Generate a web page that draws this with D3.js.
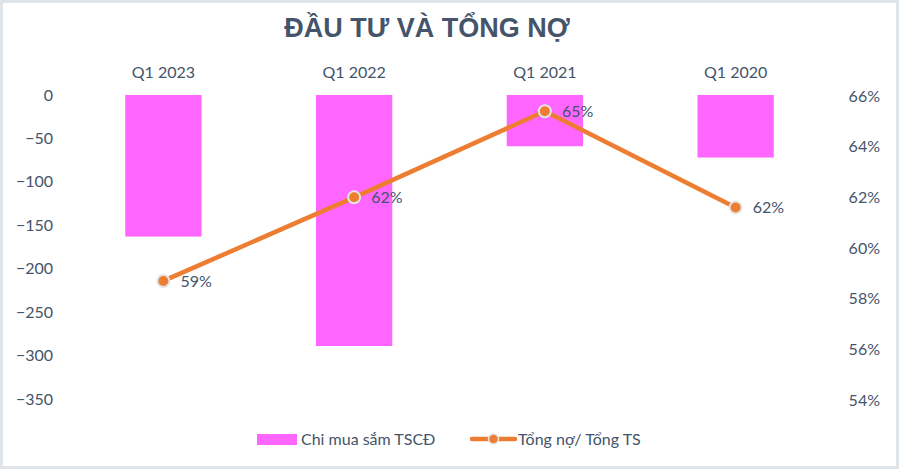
<!DOCTYPE html>
<html lang="vi">
<head>
<meta charset="UTF-8">
<title>Đầu tư và tổng nợ</title>
<script src="https://d3js.org/d3.v7.min.js"></script>
<style>
    body { margin: 0; background: #fff; }
    svg { display: block; }
    text { font-family: Lato, "Open Sans", sans-serif; fill: #44546a; }
</style>
</head>
<body>
<div id="chart"></div>
<script>
    const categories = ["Q1 2023", "Q1 2022", "Q1 2021", "Q1 2020"];
    const capex = [-163, -289, -59, -72];          // Chi mua sắm TSCĐ
    const debtRatio = [58.7, 62.0, 65.4, 61.6];     // Tổng nợ/ Tổng TS (%)
    const leftTicks = [0, -50, -100, -150, -200, -250, -300, -350];
    const rightTicks = [54, 56, 58, 60, 62, 64, 66];

    const width = 900, height = 470;
    const svg = d3.select("#chart").append("svg")
        .attr("width", width).attr("height", height);

    // chart border
    svg.append("rect")
        .attr("x", 1.5).attr("y", 1.5)
        .attr("width", width - 4).attr("height", height - 4)
        .attr("fill", "#fff").attr("stroke", "#dfe4e8").attr("stroke-width", 3);

    svg.append("text")
        .attr("x", 427).attr("y", 37)
        .attr("text-anchor", "middle")
        .style("font-family", "'Liberation Sans', Arial, sans-serif")
        .style("font-size", "27px").style("font-weight", "bold")
        .text("ĐẦU TƯ VÀ TỔNG NỢ");

    const x = d3.scaleBand().domain(categories).range([68, 831])
        .paddingInner(0.6).paddingOuter(0.3);
    const yL = d3.scaleLinear().domain([-350, 0]).range([399, 95]);
    const yR = d3.scaleLinear().domain([54, 66]).range([400, 96]);

    // category labels on top
    svg.append("g").selectAll("text").data(categories).enter().append("text")
        .attr("x", d => x(d) + x.bandwidth() / 2)
        .attr("y", 78)
        .attr("text-anchor", "middle")
        .style("font-size", "16px")
        .text(d => d);

    // left axis
    const axL = svg.append("g").attr("transform", "translate(53,0)")
        .call(d3.axisLeft(yL).tickValues(leftTicks).tickSize(0).tickPadding(0)
            .tickFormat(d3.format("d")));
    axL.select(".domain").remove();
    axL.selectAll("text").style("font-size", "16px").attr("fill", "#44546a")
        .style("font-family", "Lato, sans-serif");

    // right axis
    const axR = svg.append("g").attr("transform", "translate(880,0)")
        .call(d3.axisLeft(yR).tickValues(rightTicks).tickSize(0).tickPadding(0)
            .tickFormat(d => d + "%"));
    axR.select(".domain").remove();
    axR.selectAll("text").style("font-size", "16px").attr("fill", "#44546a")
        .style("font-family", "Lato, sans-serif");

    // bars
    svg.append("g").selectAll("rect").data(categories).enter().append("rect")
        .attr("x", d => x(d))
        .attr("y", yL(0))
        .attr("width", x.bandwidth())
        .attr("height", (d, i) => yL(capex[i]) - yL(0))
        .attr("fill", "#ff66ff");

    // line
    const pts = categories.map((c, i) => [x(c) + x.bandwidth() / 2, yR(debtRatio[i])]);
    svg.append("path")
        .attr("d", d3.line()(pts))
        .attr("fill", "none").attr("stroke", "#ed7d31")
        .attr("stroke-width", 4.5).attr("stroke-linejoin", "round");

    svg.append("g").selectAll("circle").data(pts).enter().append("circle")
        .attr("cx", d => d[0]).attr("cy", d => d[1]).attr("r", 6)
        .attr("fill", "#ed7d31").attr("stroke", "#e4e4e4").attr("stroke-width", 2);

    svg.append("g").selectAll("text").data(pts).enter().append("text")
        .attr("x", d => d[0] + 17).attr("y", d => d[1])
        .attr("dy", "0.35em")
        .style("font-size", "16px")
        .text((d, i) => Math.round(debtRatio[i]) + "%");

    // legend
    const lg = svg.append("g");
    lg.append("rect").attr("x", 257).attr("y", 434).attr("width", 40).attr("height", 11)
        .attr("fill", "#ff66ff");
    lg.append("text").attr("x", 301).attr("y", 439).attr("dy", "0.35em")
        .style("font-size", "16px").text("Chi mua sắm TSCĐ");
    lg.append("line").attr("x1", 472).attr("x2", 515).attr("y1", 439).attr("y2", 439)
        .attr("stroke", "#ed7d31").attr("stroke-width", 4.5).attr("stroke-linecap", "round");
    lg.append("circle").attr("cx", 493.5).attr("cy", 439).attr("r", 5)
        .attr("fill", "#ed7d31").attr("stroke", "#e4e4e4").attr("stroke-width", 1.5);
    lg.append("text").attr("x", 518).attr("y", 439).attr("dy", "0.35em")
        .style("font-size", "16px").text("Tổng nợ/ Tổng TS");
</script>
</body>
</html>
